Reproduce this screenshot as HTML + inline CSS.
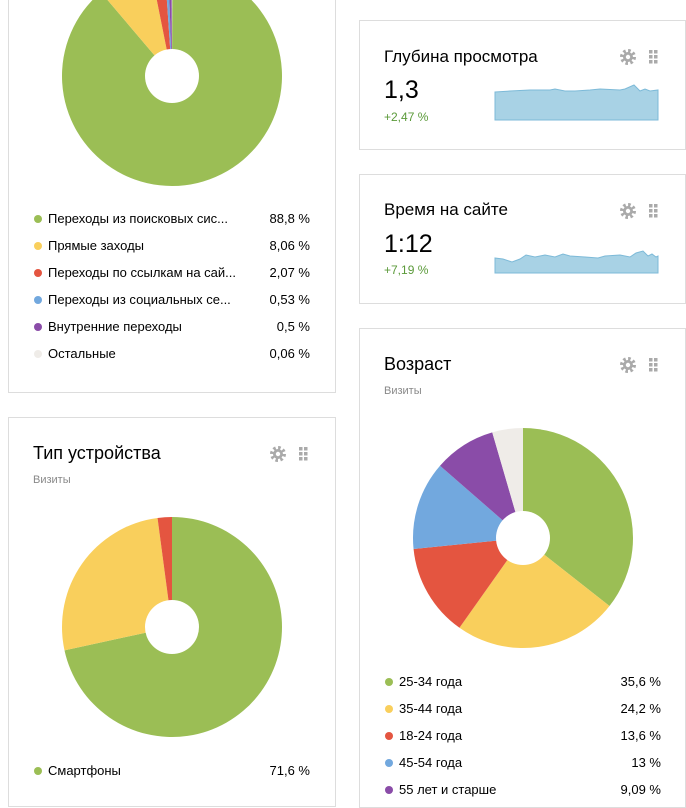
<!DOCTYPE html>
<html><head><meta charset="utf-8">
<style>
body{margin:0;width:686px;height:790px;overflow:hidden;background:#fff;font-family:"Liberation Sans","DejaVu Sans",sans-serif;color:#000;position:relative}
.card{position:absolute;border:1px solid #ddd;background:#fff;box-sizing:border-box}
.t{position:absolute;white-space:nowrap}
.lg{position:absolute;font-size:13px;white-space:nowrap}
.dot{position:absolute;width:8px;height:8px;border-radius:50%}
svg{position:absolute;left:0;top:0}
</style></head><body>
<div class="card" style="left:8px;top:-5px;width:328px;height:398px"></div>
<div class="card" style="left:8px;top:417px;width:328px;height:390px"></div>
<div class="card" style="left:359px;top:20px;width:327px;height:130px"></div>
<div class="card" style="left:359px;top:174px;width:327px;height:130px"></div>
<div class="card" style="left:359px;top:328px;width:327px;height:480px"></div>

<svg width="686" height="790" id="s">
<path d="M495,92 L510,91 L530,90 L550,90 L555,89 L565,91 L575,91 L590,90 L600,89 L620,90 L625,89 L634,85 L640,91 L645,89 L650,91 L658,90 L658,120 L495,120Z" fill="#a8d2e5" stroke="#7dbad8" stroke-width="1"/>
<path d="M495,258 L503,259 L512,262 L520,259 L526,255 L535,257 L545,255 L555,257 L563,254 L570,256 L585,257 L598,258 L605,256 L620,255 L630,257 L636,253 L643,251 L648,256 L652,254 L656,257 L658,256 L658,273 L495,273Z" fill="#a8d2e5" stroke="#7dbad8" stroke-width="1"/>
</svg>

<div class="t" style="left:384px;top:47px;font-size:17px">Глубина просмотра</div>
<div class="t" style="left:384px;top:76px;font-size:25px">1,3</div>
<div class="t" style="left:384px;top:110px;font-size:12px;color:#5b9a3a">+2,47 %</div>
<div class="t" style="left:384px;top:200px;font-size:17px">Время на сайте</div>
<div class="t" style="left:384px;top:230px;font-size:25px">1:12</div>
<div class="t" style="left:384px;top:263px;font-size:12px;color:#5b9a3a">+7,19 %</div>

<div class="t" style="left:33px;top:443px;font-size:18px">Тип устройства</div>
<div class="t" style="left:33px;top:474px;font-size:11px;color:#888">Визиты</div>
<div class="t" style="left:384px;top:354px;font-size:18px">Возраст</div>
<div class="t" style="left:384px;top:385px;font-size:11px;color:#888">Визиты</div>

<div id="lg"></div>
<script>
var s=document.getElementById('s'),NS='http://www.w3.org/2000/svg';
function pie(cx,cy,r,h,data){var a=0;data.forEach(function(d){var v=d[0]/100*2*Math.PI;var a1=a,a2=a+v;
var x1=cx+r*Math.sin(a1),y1=cy-r*Math.cos(a1),x2=cx+r*Math.sin(a2),y2=cy-r*Math.cos(a2);
var p=document.createElementNS(NS,'path');p.setAttribute('d','M'+cx+','+cy+' L'+x1+','+y1+' A'+r+','+r+' 0 '+(v>Math.PI?1:0)+' 1 '+x2+','+y2+'Z');
p.setAttribute('fill',d[1]);s.appendChild(p);a=a2;});
var c=document.createElementNS(NS,'circle');c.setAttribute('cx',cx);c.setAttribute('cy',cy);c.setAttribute('r',h);c.setAttribute('fill','#fff');s.appendChild(c);}
var G='#9bbe55',Y='#f9cf5c',R='#e45540',B='#72a8de',P='#8a4ca8',W='#efece8';
pie(172,76,110,27,[[88.8,G],[8.06,Y],[2.07,R],[0.53,B],[0.5,P],[0.11,W]]);
pie(172,627,110,27,[[71.6,G],[26.3,Y],[2.1,R]]);
pie(523,538,110,27,[[35.6,G],[24.2,Y],[13.6,R],[13,B],[9.09,P],[4.51,W]]);
function icons(x,y){var g='';
var c=document.createElementNS(NS,'circle');c.setAttribute('cx',x);c.setAttribute('cy',y);c.setAttribute('r',6);c.setAttribute('fill','none');c.setAttribute('stroke','#aaa');c.setAttribute('stroke-width',4);c.setAttribute('stroke-dasharray','2.4 2.3');s.appendChild(c);
var c2=document.createElementNS(NS,'circle');c2.setAttribute('cx',x);c2.setAttribute('cy',y);c2.setAttribute('r',5);c2.setAttribute('fill','#aaa');s.appendChild(c2);
var c3=document.createElementNS(NS,'circle');c3.setAttribute('cx',x);c3.setAttribute('cy',y);c3.setAttribute('r',2.2);c3.setAttribute('fill','#fff');s.appendChild(c3);
for(var i=0;i<3;i++)for(var j=0;j<2;j++){var r=document.createElementNS(NS,'rect');r.setAttribute('x',x+21+j*5);r.setAttribute('y',y-7+i*5);r.setAttribute('width',3.5);r.setAttribute('height',3.5);r.setAttribute('fill','#aaa');s.appendChild(r);}}
icons(628,57);icons(628,211);icons(628,365);icons(278,454);
var L=document.getElementById('lg'),h='';
function leg(x,xr,y,c,t,v){h+='<div class="dot" style="left:'+(x-4)+'px;top:'+(y-4)+'px;background:'+c+'"></div><div class="lg" style="left:'+(x+10)+'px;top:'+(y-8)+'px">'+t+'</div><div class="lg" style="right:'+(686-xr)+'px;top:'+(y-8)+'px">'+v+'</div>';}
var t1=[[G,'Переходы из поисковых сис...','88,8 %'],[Y,'Прямые заходы','8,06 %'],[R,'Переходы по ссылкам на сай...','2,07 %'],[B,'Переходы из социальных се...','0,53 %'],[P,'Внутренние переходы','0,5 %'],[W,'Остальные','0,06 %']];
t1.forEach(function(d,i){leg(38,310,219+i*27,d[0],d[1],d[2]);});
leg(38,310,771,G,'Смартфоны','71,6 %');
var t2=[[G,'25-34 года','35,6 %'],[Y,'35-44 года','24,2 %'],[R,'18-24 года','13,6 %'],[B,'45-54 года','13 %'],[P,'55 лет и старше','9,09 %']];
t2.forEach(function(d,i){leg(389,661,682+i*27,d[0],d[1],d[2]);});
L.innerHTML=h;
</script>
</body></html>
